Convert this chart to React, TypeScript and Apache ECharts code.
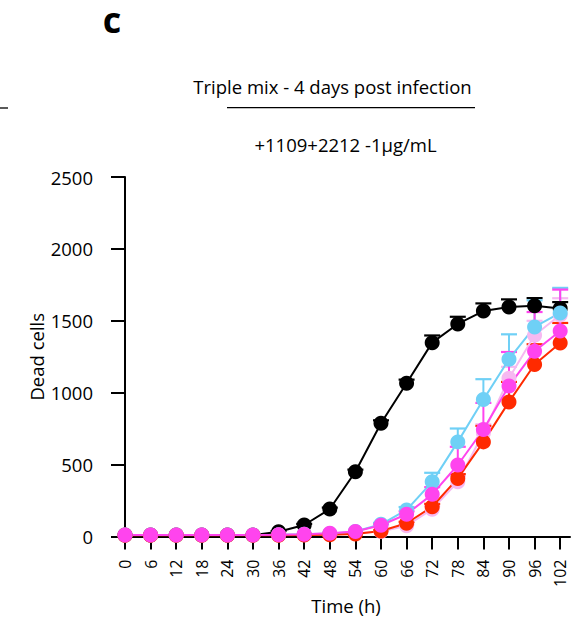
import React, { useEffect, useRef } from "react";
import * as echarts from "echarts";

const times = [0, 6, 12, 18, 24, 30, 36, 42, 48, 54, 60, 66, 72, 78, 84, 90, 96, 102];

const blackVals = [10, 10, 10, 10, 10, 10, 33, 80, 191, 450, 788, 1066, 1348, 1478, 1568, 1596, 1605, 1585];
const blackErr = [0, 0, 0, 0, 0, 0, 5, 8, 10, 15, 20, 25, 50, 50, 53, 53, 53, 45];

const lightPinkVals = [10, 10, 10, 10, 10, 10, 10, 12, 15, 25, 35, 75, 190, 380, 720, 1100, 1400, 1540];
const lightPinkErr = [0, 0, 0, 0, 0, 0, 0, 0, 0, 0, 0, 10, 20, 40, 60, 80, 100, 117];

const lightBlueVals = [10, 10, 10, 10, 10, 10, 12, 15, 20, 35, 85, 185, 380, 658, 952, 1233, 1457, 1555];
const lightBlueErr = [0, 0, 0, 0, 0, 0, 0, 0, 0, 0, 10, 20, 63, 93, 142, 173, 185, 174];

const redVals = [8, 8, 8, 8, 8, 8, 8, 10, 12, 18, 38, 92, 207, 404, 658, 936, 1196, 1346];
const redErr = [0, 0, 0, 0, 0, 0, 0, 0, 0, 0, 5, 10, 20, 30, 111, 139, 141, 139];

const magentaVals = [10, 10, 10, 10, 10, 10, 12, 15, 22, 35, 78, 155, 293, 497, 744, 1047, 1288, 1429];
const magentaErr = [0, 0, 0, 0, 0, 0, 0, 0, 0, 0, 8, 20, 50, 127, 185, 236, 273, 288];

const yTicks = [0, 500, 1000, 1500, 2000, 2500];

const FONT = "Open Sans";

function makePair(name: string, color: string, vals: number[], errs: number[]) {
  const errData = times
    .map((t, i) => [t, vals[i], errs[i]])
    .filter((d) => d[2] > 0);
  const err = {
    type: "custom",
    name: name + " err",
    data: errData,
    encode: { x: 0, y: 1 },
    renderItem: (params: any, api: any) => {
      const x = api.value(0);
      const y = api.value(1);
      const e = api.value(2);
      const p0 = api.coord([x, y]);
      const p1 = api.coord([x, y + e]);
      return {
        type: "group",
        children: [
          {
            type: "line",
            shape: { x1: p0[0], y1: p0[1], x2: p1[0], y2: p1[1] },
            style: { stroke: color, lineWidth: 2 },
          },
          {
            type: "line",
            shape: { x1: p1[0] - 8, y1: p1[1], x2: p1[0] + 8, y2: p1[1] },
            style: { stroke: color, lineWidth: 2.2 },
          },
        ],
      };
    },
  };
  const line = {
    type: "line",
    name,
    data: times.map((t, i) => [t, vals[i]]),
    symbol: "circle",
    symbolSize: 15,
    itemStyle: { color },
    lineStyle: { color, width: 2 },
  };
  return [err, line];
}

export default function App() {
  const ref = useRef<HTMLDivElement>(null);
  useEffect(() => {
    if (!ref.current) return;
    const chart = echarts.init(ref.current, null, { renderer: "svg" });
    const option: any = {
      animation: false,
      backgroundColor: "#ffffff",
      grid: {
        left: 113,
        right: 3,
        top: 177,
        bottom: 81.5,
        containLabel: false,
        outerBoundsMode: "none",
      },
      xAxis: {
        type: "value",
        min: -2.81,
        max: 104.3,
        splitLine: { show: false },
        axisLine: { show: true, lineStyle: { color: "#000", width: 2 } },
        axisTick: {
          show: true,
          length: 13,
          lineStyle: { color: "#000", width: 2 },
          customValues: times,
        },
        axisLabel: {
          customValues: times,
          rotate: 90,
          margin: 23,
          color: "#000",
          fontFamily: FONT,
          fontSize: 16,
          formatter: (v: number) => String(v),
        },
      },
      yAxis: {
        type: "value",
        min: 0,
        max: 2500,
        interval: 500,
        name: "Dead cells",
        nameLocation: "middle",
        nameRotate: 90,
        nameGap: 67,
        nameMoveOverlap: false,
        nameTextStyle: { color: "#000", fontFamily: FONT, fontSize: 18.5 },
        splitLine: { show: false },
        axisLine: { show: true, lineStyle: { color: "#000", width: 2 } },
        axisTick: {
          show: true,
          length: 14,
          lineStyle: { color: "#000", width: 2 },
          customValues: yTicks,
        },
        axisLabel: {
          customValues: yTicks,
          margin: 20,
          color: "#000",
          fontFamily: FONT,
          fontSize: 18.5,
          formatter: (v: number) => String(v),
        },
      },
      graphic: [
        {
          type: "text",
          x: 112,
          y: 19,
          style: {
            text: "c",
            fontFamily: FONT,
            fontWeight: "bold",
            fontSize: 36,
            fill: "#000",
            align: "center",
            verticalAlign: "middle",
          },
        },
        {
          type: "text",
          x: 332.5,
          y: 86.7,
          style: {
            text: "Triple mix - 4 days post infection",
            fontFamily: FONT,
            fontSize: 18.5,
            fill: "#000",
            align: "center",
            verticalAlign: "middle",
          },
        },
        {
          type: "line",
          shape: { x1: 227, y1: 107.7, x2: 475, y2: 107.7 },
          style: { stroke: "#000", lineWidth: 1.3 },
        },
        {
          type: "line",
          shape: { x1: 0, y1: 108, x2: 8, y2: 108 },
          style: { stroke: "#000", lineWidth: 1.3 },
        },
        {
          type: "text",
          x: 345.5,
          y: 144.7,
          style: {
            text: "+1109+2212 -1\u00b5g/mL",
            fontFamily: FONT,
            fontSize: 18.5,
            fill: "#000",
            align: "center",
            verticalAlign: "middle",
          },
        },
        {
          type: "text",
          x: 346,
          y: 605.7,
          style: {
            text: "Time (h)",
            fontFamily: FONT,
            fontSize: 18.5,
            fill: "#000",
            align: "center",
            verticalAlign: "middle",
          },
        },
      ],
      series: [
        ...makePair("Control", "#000000", blackVals, blackErr),
        ...makePair("Replicate", "#f6b9f1", lightPinkVals, lightPinkErr),
        ...makePair("Light blue", "#6fd0f6", lightBlueVals, lightBlueErr),
        ...makePair("Red", "#ff2a00", redVals, redErr),
        ...makePair("Magenta", "#ff44ee", magentaVals, magentaErr),
      ],
    };
    chart.setOption(option);
    return () => chart.dispose();
  }, []);
  return (
    <div
      ref={ref}
      style={{ position: "fixed", left: 0, top: 0, width: 573, height: 618 }}
    />
  );
}
